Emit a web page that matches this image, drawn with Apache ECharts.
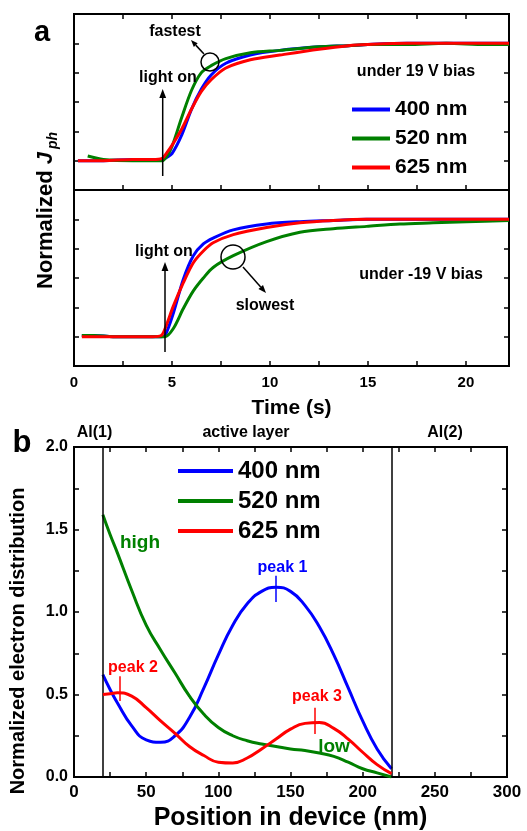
<!DOCTYPE html>
<html>
<head>
<meta charset="utf-8">
<script src="https://cdn.jsdelivr.net/npm/echarts@6/dist/echarts.min.js"></script>
<style>
  html, body { margin: 0; padding: 0; background: #fff; }
  #chart { width: 527px; height: 831px; }
</style>
</head>
<body>
<div id="chart"></div>
<script>
const FONT = '"Liberation Sans", Arial, sans-serif';
const names = ['400 nm', '520 nm', '625 nm'];
const colors = ['#0000ff', '#008000', '#ff0000'];

// panel a, upper: under 19 V bias
const timeFwd = [0.2, 0.7, 1.5, 3, 4, 4.5, 4.75, 5, 5.5, 6, 6.5, 7, 7.75, 9, 10.5, 12.5, 14, 15, 17, 19, 21, 22.2];
const blueFwd = [0, 0, 0, 0.01, 0.01, 0.01, 0.03, 0.06, 0.22, 0.44, 0.61, 0.73, 0.83, 0.9, 0.94, 0.97, 0.98, 0.99, 1.0, 1.0, 1.0, 1.0];
const greenFwd = [null, 0.04, 0.01, 0, 0, 0, 0.04, 0.12, 0.37, 0.6, 0.75, 0.81, 0.87, 0.92, 0.94, 0.97, 0.98, 0.99, 0.99, 1.0, 0.99, 0.99];
const redFwd = [0, 0, 0, 0.01, 0.01, 0.02, 0.07, 0.13, 0.27, 0.44, 0.59, 0.69, 0.79, 0.86, 0.9, 0.95, 0.98, 0.99, 1.0, 1.0, 1.0, 1.0];

// panel a, lower: under -19 V bias
const timeRev = [0.4, 1, 2, 3, 4, 4.45, 4.65, 5.07, 5.58, 6.09, 6.6, 7.1, 8.13, 9.83, 11.53, 13.23, 14.93, 16.63, 18.33, 20.03, 22.2];
const blueRev = [0.01, 0.01, 0, 0, 0, 0, 0.01, 0.2, 0.49, 0.69, 0.79, 0.84, 0.91, 0.96, 0.98, 0.99, 1.0, 1.0, 1.0, 1.0, 1.0];
const greenRev = [0.01, 0.01, 0, 0, 0, 0, 0, 0.07, 0.24, 0.39, 0.5, 0.59, 0.69, 0.81, 0.89, 0.92, 0.94, 0.96, 0.97, 0.98, 0.99];
const redRev = [0, 0, 0, 0, 0, 0.01, 0.07, 0.26, 0.46, 0.63, 0.73, 0.8, 0.87, 0.93, 0.97, 0.99, 1.0, 1.0, 1.0, 1.0, 1.0];

// panel b: electron distribution
const position = [20, 25, 30, 40, 50, 60, 70, 80, 90, 100, 110, 120, 130, 140, 150, 160, 170, 180, 190, 200, 210, 220];
const blueDist = [0.62, 0.53, 0.45, 0.31, 0.225, 0.21, 0.25, 0.36, 0.54, 0.74, 0.92, 1.05, 1.125, 1.15, 1.125, 1.04, 0.91, 0.74, 0.54, 0.34, 0.17, 0.05];
const greenDist = [1.59, 1.47, 1.36, 1.13, 0.92, 0.77, 0.63, 0.49, 0.38, 0.3, 0.25, 0.22, 0.2, 0.185, 0.17, 0.16, 0.145, 0.125, 0.09, 0.05, 0.025, 0];
const redDist = [0.5, 0.505, 0.51, 0.49, 0.42, 0.34, 0.265, 0.185, 0.13, 0.09, 0.085, 0.115, 0.17, 0.23, 0.29, 0.325, 0.33, 0.295, 0.23, 0.15, 0.075, 0.02];

const layerEdges = [20, 220];
const peakMarks = [
  { x: 140, y: [1.06, 1.22], color: colors[0] },
  { x: 32, y: [0.46, 0.61], color: colors[2] },
  { x: 166.5, y: [0.26, 0.42], color: colors[2] }
];

const zip = (xs, ys) => xs.map((x, i) => [x, ys[i]]);

const chart = echarts.init(document.getElementById('chart'));

const tick = { show: true, inside: true, length: 5, lineStyle: { color: '#000', width: 1.5 } };
const noLine = { show: false, onZero: false };
const labelFont = { color: '#000', fontFamily: FONT, fontWeight: 'bold' };

function timeAxis(grid, pos, labels) {
  return {
    type: 'value', gridIndex: grid, position: pos, min: 0, max: 22.2, interval: 2.5,
    axisLine: noLine, axisTick: tick, splitLine: { show: false },
    axisLabel: labels ? {
      ...labelFont, fontSize: 15, margin: 9,
      formatter: v => (v % 5 === 0 ? String(v) : '')
    } : { show: false }
  };
}
function jAxis(grid, pos) {
  return {
    type: 'value', gridIndex: grid, position: pos, min: -0.25, max: 1.25, interval: 0.25,
    axisLine: noLine, axisTick: tick, axisLabel: { show: false }, splitLine: { show: false }
  };
}

const frame = {
  show: true, borderColor: '#000', borderWidth: 2, backgroundColor: 'transparent',
  containLabel: false, outerBoundsMode: 'none'
};

function lineSeries(i, xi, yi, data, smooth) {
  return {
    type: 'line', name: names[i], xAxisIndex: xi, yAxisIndex: yi, data,
    symbol: 'none', smooth: smooth, connectNulls: false,
    lineStyle: { color: colors[i], width: 3 }, itemStyle: { color: colors[i] },
    z: 3 + i
  };
}

function arrow(x1, y1, x2, y2, head) {
  const a = Math.atan2(y2 - y1, x2 - x1);
  const h = head || 7, w = h * 0.38;
  const bx = x2 - h * Math.cos(a), by = y2 - h * Math.sin(a);
  const px = -Math.sin(a) * w, py = Math.cos(a) * w;
  return [
    { type: 'line', shape: { x1, y1, x2: bx, y2: by }, style: { stroke: '#000', lineWidth: 1.5 }, z: 100 },
    { type: 'polygon', shape: { points: [[x2, y2], [bx + px, by + py], [bx - px, by - py]] }, style: { fill: '#000' }, z: 100 }
  ];
}
function txt(x, y, text, size, color, extra) {
  return {
    type: 'text', x, y, z: 100,
    style: Object.assign({
      text, fill: color || '#000', align: 'center', verticalAlign: 'middle',
      font: 'bold ' + size + 'px ' + FONT
    }, extra || {})
  };
}
function ring(x, y, r) {
  return { type: 'circle', shape: { cx: x, cy: y, r }, style: { fill: 'none', stroke: '#000', lineWidth: 1.5 }, z: 100 };
}

const option = {
  animation: false,
  backgroundColor: '#fff',
  grid: [
    { left: 74, top: 14, width: 435, height: 176, ...frame },
    { left: 74, top: 190, width: 435, height: 176, ...frame },
    { left: 74, top: 447, width: 433, height: 330, ...frame }
  ],
  xAxis: [
    timeAxis(0, 'bottom', false),
    timeAxis(0, 'top', false),
    Object.assign(timeAxis(1, 'bottom', true), {
      name: 'Time (s)', nameLocation: 'middle', nameGap: 32,
      nameTextStyle: { ...labelFont, fontSize: 21 }
    }),
    {
      type: 'value', gridIndex: 2, position: 'bottom', min: 0, max: 300, interval: 25,
      axisLine: noLine, axisTick: tick, splitLine: { show: false },
      axisLabel: { ...labelFont, fontSize: 17, margin: 7, formatter: v => (v % 50 === 0 ? String(v) : '') },
      name: 'Position in device (nm)', nameLocation: 'middle', nameGap: 29,
      nameTextStyle: { ...labelFont, fontSize: 25 }
    },
    {
      type: 'value', gridIndex: 2, position: 'top', min: 0, max: 300, interval: 25,
      axisLine: noLine, axisTick: tick, axisLabel: { show: false }, splitLine: { show: false }
    }
  ],
  yAxis: [
    jAxis(0, 'left'), jAxis(0, 'right'), jAxis(1, 'left'), jAxis(1, 'right'),
    {
      type: 'value', gridIndex: 2, position: 'left', min: 0, max: 2, interval: 0.25,
      axisLine: noLine, axisTick: tick, splitLine: { show: false },
      axisLabel: { ...labelFont, fontSize: 16, margin: 6, formatter: v => (v % 0.5 === 0 ? v.toFixed(1) : '') }
    },
    {
      type: 'value', gridIndex: 2, position: 'right', min: 0, max: 2, interval: 0.25,
      axisLine: noLine, axisTick: tick, axisLabel: { show: false }, splitLine: { show: false }
    }
  ],
  legend: [
    {
      data: names, orient: 'vertical', left: 352, top: 98, icon: 'rect', padding: 0,
      itemWidth: 38, itemHeight: 4, itemGap: 6,
      textStyle: { ...labelFont, fontSize: 21, lineHeight: 23 }
    },
    {
      data: names, orient: 'vertical', left: 178, top: 459, icon: 'rect', padding: 0,
      itemWidth: 55, itemHeight: 4, itemGap: 6,
      textStyle: { ...labelFont, fontSize: 24, lineHeight: 24 }
    }
  ],
  series: [
    lineSeries(0, 0, 0, zip(timeFwd, blueFwd), 0.3),
    lineSeries(1, 0, 0, zip(timeFwd, greenFwd), 0.3),
    lineSeries(2, 0, 0, zip(timeFwd, redFwd), 0.3),
    lineSeries(0, 2, 2, zip(timeRev, blueRev), 0.3),
    lineSeries(1, 2, 2, zip(timeRev, greenRev), 0.3),
    lineSeries(2, 2, 2, zip(timeRev, redRev), 0.3),
    Object.assign(lineSeries(0, 3, 4, zip(position, blueDist), 0.5), {
      markLine: {
        silent: true, symbol: 'none', label: { show: false },
        data: layerEdges.map(x => ({ xAxis: x, lineStyle: { color: '#000', width: 1.5, type: 'solid' } }))
          .concat(peakMarks.map(p => [
            { coord: [p.x, p.y[0]], lineStyle: { color: p.color, width: 1.5, type: 'solid' } },
            { coord: [p.x, p.y[1]] }
          ]))
      }
    }),
    lineSeries(1, 3, 4, zip(position, greenDist), 0.5),
    lineSeries(2, 3, 4, zip(position, redDist), 0.5)
  ],
  graphic: [
    txt(42, 33, 'a', 29),
    txt(22, 443, 'b', 31),
    // panel a annotations
    txt(175, 32, 'fastest', 16),
    ring(210, 62, 9),
    ...arrow(204, 54, 191, 40, 7),
    txt(168, 78, 'light on', 16),
    ...arrow(162.7, 176, 162.7, 89, 9),
    txt(416, 72, 'under 19 V bias', 16),
    txt(164, 252, 'light on', 16),
    ...arrow(165, 352, 165, 262, 9),
    ring(233, 257, 12),
    ...arrow(243, 267, 266, 293, 8),
    txt(265, 306, 'slowest', 16),
    txt(421, 275, 'under -19 V bias', 16),
    // y titles
    {
      type: 'text', x: 46, y: 289, rotation: Math.PI / 2, z: 100,
      style: {
        text: '{n|Normalized }{j|J}', align: 'left', verticalAlign: 'middle',
        rich: {
          n: { font: 'bold 22px ' + FONT, fill: '#000' },
          j: { font: 'italic bold 22px ' + FONT, fill: '#000' }
        }
      }
    },
    {
      type: 'text', x: 53, y: 149, rotation: Math.PI / 2, z: 100,
      style: { text: 'ph', align: 'left', verticalAlign: 'middle', font: 'italic bold 14px ' + FONT, fill: '#000' }
    },
    {
      type: 'text', x: 18, y: 641, rotation: Math.PI / 2, z: 100,
      style: { text: 'Normalized electron distribution', align: 'center', verticalAlign: 'middle', font: 'bold 20px ' + FONT, fill: '#000' }
    },
    // panel b annotations
    txt(94.5, 433, 'Al(1)', 16),
    txt(246, 433, 'active layer', 16),
    txt(445, 433, 'Al(2)', 16),
    txt(140, 543, 'high', 19, colors[1]),
    txt(334, 747, 'low', 19, colors[1]),
    txt(282.5, 568, 'peak 1', 16, colors[0]),
    txt(133, 668, 'peak 2', 16, colors[2]),
    txt(317, 697, 'peak 3', 16, colors[2])
  ]
};

chart.setOption(option);
</script>
</body>
</html>
